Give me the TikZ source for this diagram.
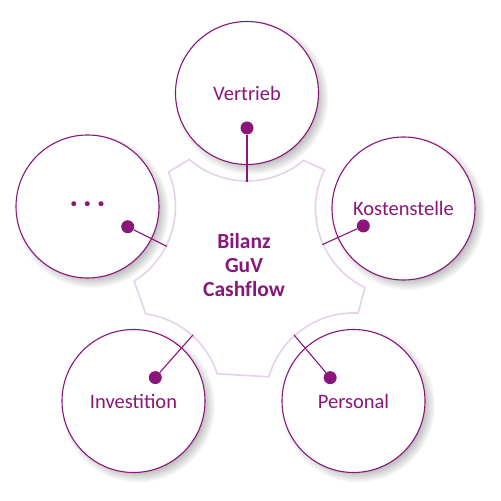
\documentclass[tikz,border=0pt]{standalone}
\usepackage{fontspec}
\setmainfont{Carlito}
\newfontfamily\symfont{DejaVu Sans}
\usetikzlibrary{calc,shadows}
\definecolor{plum}{RGB}{139,22,123}
\definecolor{lav}{RGB}{228,210,232}
\begin{document}
\begin{tikzpicture}[x=1pt,y=1pt,
  bubble/.style={circle, draw=plum, line width=1.1pt, fill=white, minimum size=143pt,
    inner sep=0pt, text=plum, font=\fontsize{20.5}{24}\selectfont,
    circular drop shadow={shadow xshift=4pt, shadow yshift=-4pt, shadow scale=1.08, opacity=0.5}},
  dotnode/.style={circle, fill=plum, minimum size=13pt, inner sep=0pt},
  conn/.style={draw=plum, line width=1.1pt},
  gear/.style={draw=lav, line width=1.6pt}]
\useasboundingbox[fill=white] (0,0) rectangle (501,501);
% outer circles
\node[bubble] (V) at (247,408) {Vertrieb};
\node[bubble] (K) at (403.5,292.5) {Kostenstelle};
\node[bubble] (P) at (353.5,100) {Personal};
\node[bubble] (I) at (133.5,100) {Investition};
\node[bubble] (D) at (87.5,294.5) {\symfont\fontsize{17}{17}\selectfont •\hspace{3.5pt}•\hspace{3.5pt}•};
% central gear outline
\draw[gear] ($(V)+(229:88)$) arc[start angle=229,end angle=310,radius=88]
  -- ($(K)+(154:88)$) arc[start angle=154,end angle=244,radius=88]
  -- ($(P)+(87:88)$) arc[start angle=87,end angle=164,radius=88]
  -- ($(I)+(18:88)$) arc[start angle=18,end angle=82,radius=88]
  -- ($(D)+(-58:88)$) arc[start angle=-58,end angle=23,radius=88]
  -- cycle;
\node[text=plum, font=\bfseries\fontsize{21.5}{24}\selectfont, align=center] (c) at (244,236)
  {Bilanz\\GuV\\Cashf\kern0pt low};
% dots and connectors
\node[dotnode] (vd) at ($(V)+(270:35)$) {};
\node[dotnode] (kd) at ($(K)+(203.5:43.8)$) {};
\node[dotnode] (pd) at ($(P)+(135:33)$) {};
\node[dotnode] (id) at ($(I)+(47:32)$) {};
\node[dotnode] (dd) at ($(D)+(-26.7:45)$) {};
\coordinate (ve) at ($(V)+(270:89)$);
\coordinate (ke) at ($(K)+(204:89)$);
\coordinate (pe) at ($(P)+(132:89)$);
\coordinate (ie) at ($(I)+(48:89)$);
\coordinate (de) at ($(D)+(-26.7:89)$);
\draw[conn] (vd) -- (ve);
\draw[conn] (kd) -- (ke);
\draw[conn] (pd) -- (pe);
\draw[conn] (id) -- (ie);
\draw[conn] (dd) -- (de);
\end{tikzpicture}
\end{document}
